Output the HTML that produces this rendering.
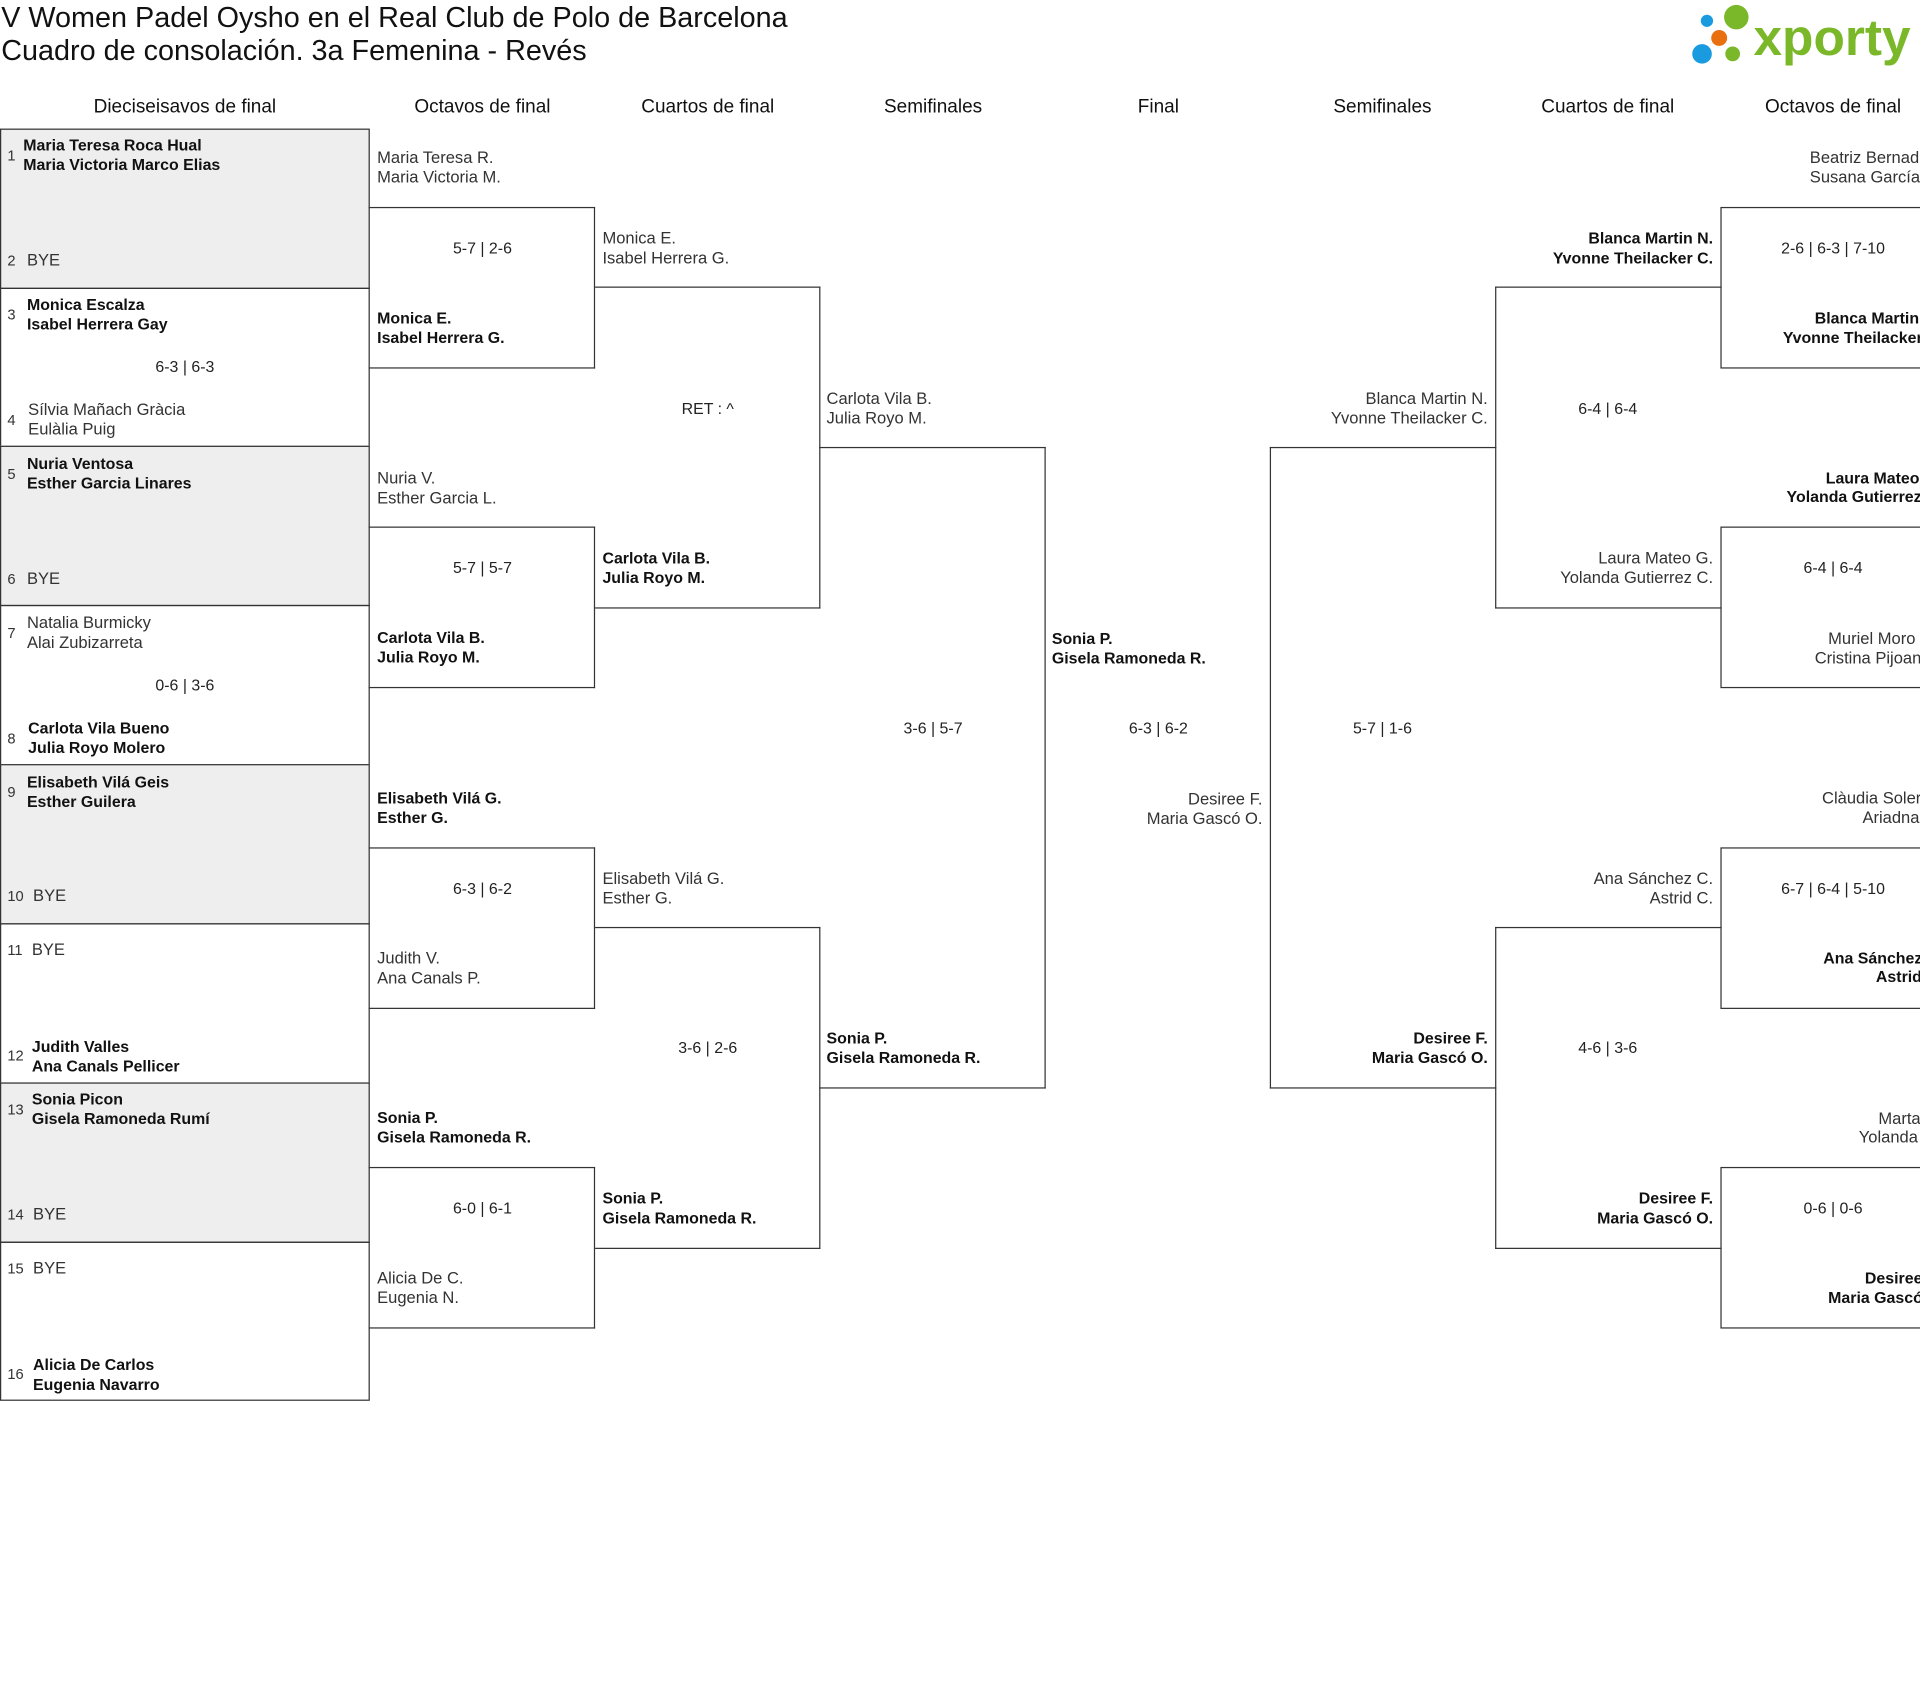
<!DOCTYPE html>
<html><head><meta charset="utf-8">
<style>
html,body{margin:0;padding:0;background:#fff;width:1920px;height:1704px;overflow:hidden}
#w{position:absolute;left:0;top:0;width:1568px;height:1392px;overflow:hidden;transform:scale(1.22449);transform-origin:0 0;font-family:"Liberation Sans",sans-serif;color:#222}
.t{position:absolute;white-space:nowrap;font-size:13.5px;line-height:16px;color:#333;margin-top:1px}
.w{font-weight:bold;font-size:13px;color:#111}
.s{position:absolute;width:200px;text-align:center;font-size:13px;line-height:16px;color:#222;white-space:nowrap;margin-top:1px}
.h{position:absolute;width:200px;text-align:center;font-size:15.5px;line-height:18px;color:#111;white-space:nowrap;margin-top:1px}
.r{text-align:right}
.b{position:absolute;box-sizing:border-box;border:1px solid #333}
.n{position:absolute;font-size:12px;color:#333;line-height:16px;margin-top:1px}
.lb{position:absolute;box-sizing:border-box;border-top:1px solid #333;border-bottom:1px solid #333;border-right:1px solid #333}
.rb{position:absolute;box-sizing:border-box;border-top:1px solid #333;border-bottom:1px solid #333;border-left:1px solid #333}
</style></head><body><div id="w">
<div style="position:absolute;left:1px;top:1px;font-size:23.5px;line-height:27px;color:#111;white-space:nowrap">V Women Padel Oysho en el Real Club de Polo de Barcelona<br>Cuadro de consolación. 3a Femenina - Revés</div>
<svg style="position:absolute;left:1375px;top:0" width="200" height="60">
<circle cx="19" cy="17" r="5" fill="#1a9be0"/><circle cx="43" cy="14" r="10" fill="#7ab829"/><circle cx="29" cy="31" r="6.5" fill="#e8700f"/><circle cx="15" cy="44" r="8" fill="#1a9be0"/><circle cx="40" cy="44" r="6" fill="#7ab829"/>
<text x="57" y="45" font-family="Liberation Sans,sans-serif" font-weight="bold" font-size="42" fill="#7ab829">xporty</text></svg>

<div class="h" style="left:51px;top:78px">Dieciseisavos de final</div>
<div class="h" style="left:294px;top:78px">Octavos de final</div>
<div class="h" style="left:478px;top:78px">Cuartos de final</div>
<div class="h" style="left:662px;top:78px">Semifinales</div>
<div class="h" style="left:846px;top:78px">Final</div>
<div class="h" style="left:1029px;top:78px">Semifinales</div>
<div class="h" style="left:1213px;top:78px">Cuartos de final</div>
<div class="h" style="left:1397px;top:78px">Octavos de final</div>

<div class="b" style="left:0;top:105px;width:302px;height:131px;background:#eee"></div>
<div class="b" style="left:0;top:235px;width:302px;height:130px"></div>
<div class="b" style="left:0;top:364px;width:302px;height:131px;background:#eee"></div>
<div class="b" style="left:0;top:494px;width:302px;height:131px"></div>
<div class="b" style="left:0;top:624px;width:302px;height:131px;background:#eee"></div>
<div class="b" style="left:0;top:754px;width:302px;height:131px"></div>
<div class="b" style="left:0;top:884px;width:302px;height:131px;background:#eee"></div>
<div class="b" style="left:0;top:1014px;width:302px;height:130px"></div>

<div class="n" style="left:6px;top:118px">1</div><div class="t w" style="left:19px;top:110px">Maria Teresa Roca Hual<br>Maria Victoria Marco Elias</div>
<div class="n" style="left:6px;top:204px">2</div><div class="t" style="left:22px;top:204px">BYE</div>
<div class="n" style="left:6px;top:248px">3</div><div class="t w" style="left:22px;top:240px">Monica Escalza<br>Isabel Herrera Gay</div>
<div class="s" style="left:51px;top:291px">6-3 | 6-3</div>
<div class="n" style="left:6px;top:334px">4</div><div class="t" style="left:23px;top:326px">Sílvia Mañach Gràcia<br>Eulàlia Puig</div>
<div class="n" style="left:6px;top:378px">5</div><div class="t w" style="left:22px;top:370px">Nuria Ventosa<br>Esther Garcia Linares</div>
<div class="n" style="left:6px;top:464px">6</div><div class="t" style="left:22px;top:464px">BYE</div>
<div class="n" style="left:6px;top:508px">7</div><div class="t" style="left:22px;top:500px">Natalia Burmicky<br>Alai Zubizarreta</div>
<div class="s" style="left:51px;top:551px">0-6 | 3-6</div>
<div class="n" style="left:6px;top:594px">8</div><div class="t w" style="left:23px;top:586px">Carlota Vila Bueno<br>Julia Royo Molero</div>
<div class="n" style="left:6px;top:638px">9</div><div class="t w" style="left:22px;top:630px">Elisabeth Vilá Geis<br>Esther Guilera</div>
<div class="n" style="left:6px;top:723px">10</div><div class="t" style="left:27px;top:723px">BYE</div>
<div class="n" style="left:6px;top:767px">11</div><div class="t" style="left:26px;top:767px">BYE</div>
<div class="n" style="left:6px;top:853px">12</div><div class="t w" style="left:26px;top:846px">Judith Valles<br>Ana Canals Pellicer</div>
<div class="n" style="left:6px;top:897px">13</div><div class="t w" style="left:26px;top:889px">Sonia Picon<br>Gisela Ramoneda Rumí</div>
<div class="n" style="left:6px;top:983px">14</div><div class="t" style="left:27px;top:983px">BYE</div>
<div class="n" style="left:6px;top:1027px">15</div><div class="t" style="left:27px;top:1027px">BYE</div>
<div class="n" style="left:6px;top:1113px">16</div><div class="t w" style="left:27px;top:1106px">Alicia De Carlos<br>Eugenia Navarro</div>

<div class="lb" style="left:301px;top:169px;width:185px;height:132px"></div>
<div class="lb" style="left:301px;top:430px;width:185px;height:132px"></div>
<div class="lb" style="left:301px;top:692px;width:185px;height:132px"></div>
<div class="lb" style="left:301px;top:953px;width:185px;height:132px"></div>
<div class="t" style="left:308px;top:120px">Maria Teresa R.<br>Maria Victoria M.</div>
<div class="s" style="left:294px;top:194px">5-7 | 2-6</div>
<div class="t w" style="left:308px;top:251px">Monica E.<br>Isabel Herrera G.</div>
<div class="t" style="left:308px;top:382px">Nuria V.<br>Esther Garcia L.</div>
<div class="s" style="left:294px;top:455px">5-7 | 5-7</div>
<div class="t w" style="left:308px;top:512px">Carlota Vila B.<br>Julia Royo M.</div>
<div class="t w" style="left:308px;top:643px">Elisabeth Vilá G.<br>Esther G.</div>
<div class="s" style="left:294px;top:717px">6-3 | 6-2</div>
<div class="t" style="left:308px;top:774px">Judith V.<br>Ana Canals P.</div>
<div class="t w" style="left:308px;top:904px">Sonia P.<br>Gisela Ramoneda R.</div>
<div class="s" style="left:294px;top:978px">6-0 | 6-1</div>
<div class="t" style="left:308px;top:1035px">Alicia De C.<br>Eugenia N.</div>

<div class="lb" style="left:486px;top:234px;width:184px;height:263px"></div>
<div class="lb" style="left:486px;top:757px;width:184px;height:263px"></div>
<div class="t" style="left:492px;top:186px">Monica E.<br>Isabel Herrera G.</div>
<div class="s" style="left:478px;top:325px">RET : ^</div>
<div class="t w" style="left:492px;top:447px">Carlota Vila B.<br>Julia Royo M.</div>
<div class="t" style="left:492px;top:709px">Elisabeth Vilá G.<br>Esther G.</div>
<div class="s" style="left:478px;top:847px">3-6 | 2-6</div>
<div class="t w" style="left:492px;top:970px">Sonia P.<br>Gisela Ramoneda R.</div>

<div class="lb" style="left:669px;top:365px;width:185px;height:524px"></div>
<div class="t" style="left:675px;top:317px">Carlota Vila B.<br>Julia Royo M.</div>
<div class="s" style="left:662px;top:586px">3-6 | 5-7</div>
<div class="t w" style="left:675px;top:839px">Sonia P.<br>Gisela Ramoneda R.</div>

<div class="t w" style="left:859px;top:513px">Sonia P.<br>Gisela Ramoneda R.</div>
<div class="s" style="left:846px;top:586px">6-3 | 6-2</div>
<div class="t r" style="right:537px;top:644px">Desiree F.<br>Maria Gascó O.</div>

<div class="rb" style="left:1037px;top:365px;width:185px;height:524px"></div>
<div class="t r" style="right:353px;top:317px">Blanca Martin N.<br>Yvonne Theilacker C.</div>
<div class="s" style="left:1029px;top:586px">5-7 | 1-6</div>
<div class="t w r" style="right:353px;top:839px">Desiree F.<br>Maria Gascó O.</div>

<div class="rb" style="left:1221px;top:234px;width:185px;height:263px"></div>
<div class="rb" style="left:1221px;top:757px;width:185px;height:263px"></div>
<div class="t w r" style="right:169px;top:186px">Blanca Martin N.<br>Yvonne Theilacker C.</div>
<div class="s" style="left:1213px;top:325px">6-4 | 6-4</div>
<div class="t r" style="right:169px;top:447px">Laura Mateo G.<br>Yolanda Gutierrez C.</div>
<div class="t r" style="right:169px;top:709px">Ana Sánchez C.<br>Astrid C.</div>
<div class="s" style="left:1213px;top:847px">4-6 | 3-6</div>
<div class="t w r" style="right:169px;top:970px">Desiree F.<br>Maria Gascó O.</div>

<div class="b" style="left:1405px;top:169px;width:200px;height:132px"></div>
<div class="b" style="left:1405px;top:430px;width:200px;height:132px"></div>
<div class="b" style="left:1405px;top:692px;width:200px;height:132px"></div>
<div class="b" style="left:1405px;top:953px;width:200px;height:132px"></div>
<div class="t" style="left:1478px;top:120px">Beatriz Bernad</div><div class="t" style="left:1478px;top:136px">Susana García</div>
<div class="s" style="left:1397px;top:194px">2-6 | 6-3 | 7-10</div>
<div class="t w" style="left:1482px;top:251px">Blanca Martin</div><div class="t w" style="left:1456px;top:267px">Yvonne Theilacker</div>
<div class="t w" style="left:1491px;top:382px">Laura Mateo</div><div class="t w" style="left:1459px;top:397px">Yolanda Gutierrez</div>
<div class="s" style="left:1397px;top:455px">6-4 | 6-4</div>
<div class="t" style="left:1493px;top:513px">Muriel Moro</div><div class="t" style="left:1482px;top:529px">Cristina Pijoan</div>
<div class="t" style="left:1488px;top:643px">Clàudia Soler</div><div class="t" style="left:1521px;top:659px">Ariadna</div>
<div class="s" style="left:1397px;top:717px">6-7 | 6-4 | 5-10</div>
<div class="t w" style="left:1489px;top:774px">Ana Sánchez</div><div class="t w" style="left:1532px;top:789px">Astrid</div>
<div class="t" style="left:1534px;top:905px">Marta</div><div class="t" style="left:1518px;top:920px">Yolanda</div>
<div class="s" style="left:1397px;top:978px">0-6 | 0-6</div>
<div class="t w" style="left:1523px;top:1035px">Desiree</div><div class="t w" style="left:1493px;top:1051px">Maria Gascó</div>
</div></body></html>
